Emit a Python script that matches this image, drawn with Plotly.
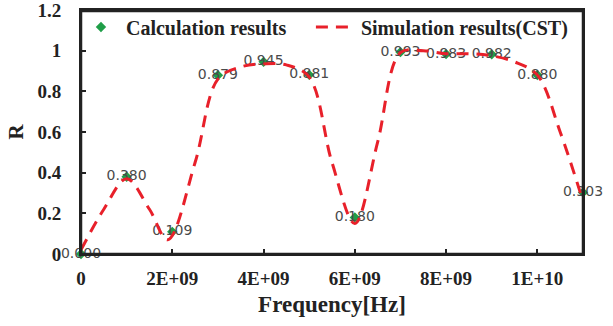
import plotly.graph_objects as go

calc_freq = [0, 1e9, 2e9, 3e9, 4e9, 5e9, 6e9, 7e9, 8e9, 9e9, 1e10, 1.1e10]
calc_r = [0.000, 0.380, 0.109, 0.879, 0.945, 0.881, 0.180, 0.993, 0.983, 0.982, 0.880, 0.303]
calc_labels = ["0.000", "0.380", "0.109", "0.879", "0.945", "0.881", "0.180", "0.993", "0.983", "0.982", "0.880", "0.303"]

sim_freq = [0, 0.5e9, 1e9, 1.5e9, 1.9e9, 2.5e9, 3e9, 3.5e9, 4e9, 4.5e9, 5e9, 5.5e9, 6e9,
            6.5e9, 7e9, 7.5e9, 8e9, 8.5e9, 9e9, 9.5e9, 1e10, 1.05e10, 1.1e10]
sim_r = [0.02, 0.22, 0.37, 0.22, 0.07, 0.45, 0.86, 0.92, 0.935, 0.93, 0.87, 0.45, 0.15,
         0.55, 0.99, 1.0, 0.985, 0.985, 0.975, 0.945, 0.88, 0.6, 0.26]

x_ticks = [0, 2e9, 4e9, 6e9, 8e9, 1e10]
x_tick_text = ["0", "2E+09", "4E+09", "6E+09", "8E+09", "1E+10"]
y_ticks = [0, 0.2, 0.4, 0.6, 0.8, 1, 1.2]
y_tick_text = ["0", "0.2", "0.4", "0.6", "0.8", "1", "1.2"]

serif = "Liberation Serif"
legend_font = dict(family=serif, size=20, color="#222", weight="bold")

fig = go.Figure()
fig.add_trace(go.Scatter(
    x=calc_freq, y=calc_r, mode="markers+text", name="Calculation results",
    marker=dict(symbol="diamond", size=8, color="#1f9e48"),
    text=calc_labels, textposition="middle center", cliponaxis=False,
    textfont=dict(family="DejaVu Sans", size=14, color="#4a4a4a"),
    legend="legend",
))
fig.add_trace(go.Scatter(
    x=sim_freq, y=sim_r, mode="lines", name="Simulation results(CST)",
    line=dict(color="#e8202a", width=3, dash="12px,8px", shape="spline", smoothing=1.0),
    legend="legend2",
))

fig.add_shape(type="rect", xref="paper", yref="paper", x0=0, x1=1, y0=0, y1=0.996,
              line=dict(color="#222", width=2.5), fillcolor="rgba(0,0,0,0)", layer="above")

fig.update_layout(
    width=613, height=326,
    margin=dict(l=81, r=30, t=10, b=72, autoexpand=False),
    paper_bgcolor="white", plot_bgcolor="white",
    showlegend=True,
    legend=dict(x=-0.01, y=1.01, xanchor="left", yanchor="top", itemwidth=40,
                font=legend_font, bgcolor="rgba(255,255,255,0)", borderwidth=0),
    legend2=dict(x=0.458, y=1.01, xanchor="left", yanchor="top", itemwidth=40,
                 font=legend_font, bgcolor="rgba(255,255,255,0)", borderwidth=0),
    xaxis=dict(range=[0, 1.1e10], tickvals=x_ticks, ticktext=x_tick_text,
               showgrid=False, zeroline=False, showline=True, linecolor="#222", linewidth=2,
               mirror=True, ticks="inside", ticklen=5, tickwidth=1.5, tickcolor="#222",
               ticklabelstandoff=6, ticklabeloverflow="allow",
               tickfont=dict(family=serif, size=19, color="#222", weight="bold"),
               title=dict(text="Frequency[Hz]", standoff=8,
                          font=dict(family=serif, size=23, color="#222", weight="bold"))),
    yaxis=dict(range=[0, 1.2], tickvals=y_ticks, ticktext=y_tick_text,
               showgrid=False, zeroline=False, showline=True, linecolor="#222", linewidth=2,
               mirror=True, ticks="inside", ticklen=5, tickwidth=1.5, tickcolor="#222",
               ticklabelstandoff=14, ticklabeloverflow="allow",
               tickfont=dict(family=serif, size=19, color="#222", weight="bold"),
               title=dict(text="R", standoff=8,
                          font=dict(family=serif, size=21, color="#222", weight="bold"))),
)

fig.write_html("out.html")
